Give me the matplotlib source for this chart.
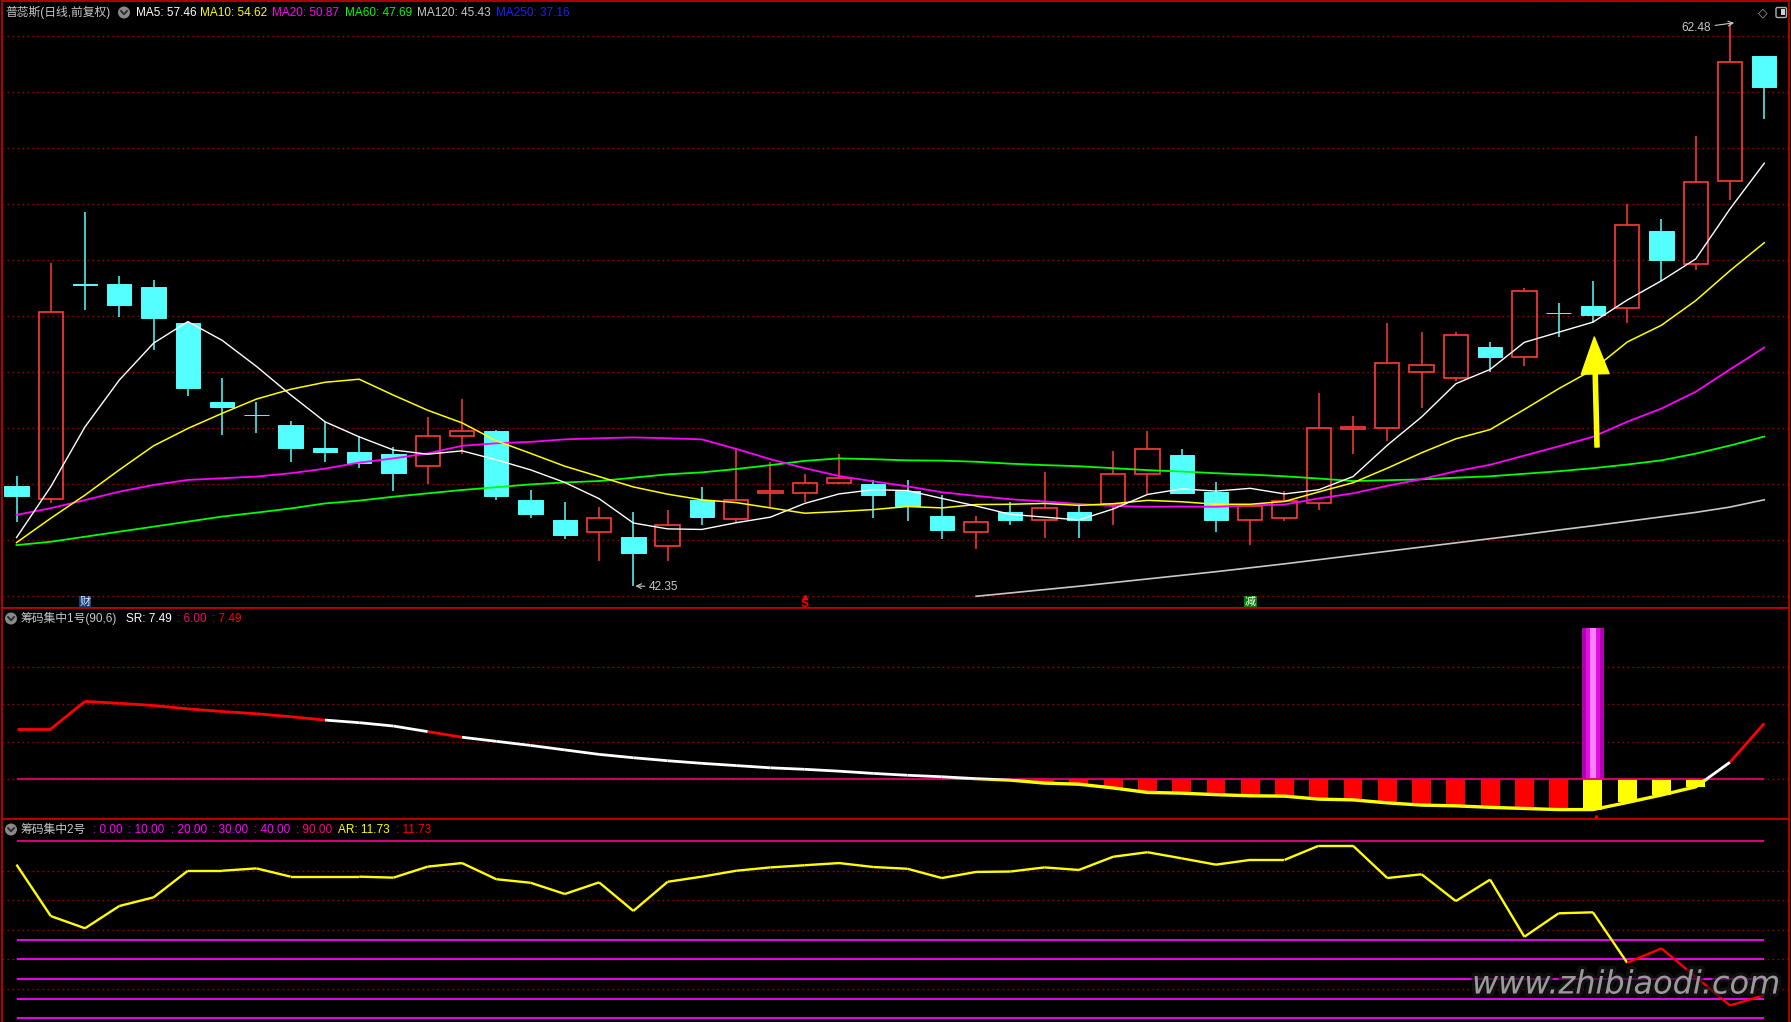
import numpy as np
import matplotlib
matplotlib.use("Agg")
import matplotlib.pyplot as plt
from matplotlib.patches import Rectangle, Circle, FancyArrowPatch, ArrowStyle, FancyBboxPatch
from matplotlib.collections import LineCollection
from matplotlib.lines import Line2D
from matplotlib.transforms import Affine2D
import matplotlib.patheffects as pe

plt.rcParams['font.family'] = ['Liberation Sans', 'Noto Sans CJK SC', 'DejaVu Sans']

# ---------------- data ----------------
stock_title = "普蕊斯(日线,前复权)"
opens = [45.92, 45.45, 53.15, 53.14, 53.04, 51.75, 48.93, 48.46, 48.10, 47.28,
         47.14, 47.07, 46.63, 47.70, 47.89, 45.42, 44.71, 44.27, 44.10, 43.79,
         45.42, 44.76, 45.66, 45.66, 46.02, 45.99, 45.73, 44.85, 44.27, 44.98,
         44.69, 44.98, 45.27, 46.34, 47.02, 45.70, 44.69, 44.77, 45.33, 47.97,
         47.98, 49.99, 49.78, 50.89, 50.53, 52.11, 52.35, 52.27, 55.03, 53.87,
         56.84, 61.28]
highs = [46.28, 53.89, 55.72, 53.42, 53.29, 51.80, 49.78, 48.94, 48.25, 48.22,
         47.71, 47.32, 48.39, 49.03, 47.93, 45.78, 45.35, 45.17, 45.01, 45.07,
         45.89, 47.23, 46.77, 46.35, 47.07, 46.14, 46.14, 45.59, 44.85, 45.35,
         46.44, 45.28, 47.16, 47.89, 47.26, 46.05, 45.21, 45.74, 49.26, 48.41,
         51.74, 51.42, 51.42, 51.08, 53.00, 52.46, 53.25, 55.99, 55.47, 58.43,
         62.48, 61.30]
lows = [44.65, 45.30, 52.23, 51.95, 50.80, 49.15, 47.76, 47.83, 46.79, 46.79,
        46.58, 45.76, 45.98, 47.05, 45.43, 44.79, 44.04, 43.25, 42.35, 43.25,
        44.53, 44.59, 45.12, 45.34, 46.00, 44.79, 44.68, 44.04, 43.68, 44.52,
        44.07, 44.07, 44.52, 45.63, 45.63, 44.28, 43.82, 44.66, 45.05, 47.05,
        47.54, 48.72, 49.67, 50.01, 50.22, 51.24, 51.75, 51.75, 53.25, 53.66,
        56.15, 59.05]
closes = [45.58, 52.13, 53.12, 52.39, 51.94, 49.44, 48.76, 48.45, 47.29, 47.15,
          46.76, 46.40, 47.70, 47.88, 45.58, 44.93, 44.18, 44.77, 43.54, 44.52,
          44.83, 45.41, 45.73, 46.02, 46.20, 45.61, 45.22, 44.36, 44.65, 44.69,
          45.12, 44.71, 46.34, 47.23, 45.69, 44.71, 45.21, 45.38, 47.98, 48.04,
          50.31, 50.24, 51.31, 50.55, 52.89, 52.10, 52.03, 55.26, 54.00, 56.79,
          61.07, 60.17]

ma5 = [44.08, 45.90, 48.04, 49.71, 51.03, 51.80, 51.13, 50.20, 49.18, 48.22,
       47.68, 47.21, 47.06, 47.18, 46.86, 46.50, 46.05, 45.47, 44.60, 44.39,
       44.37, 44.61, 44.81, 45.30, 45.64, 45.79, 45.76, 45.48, 45.21, 44.91,
       44.81, 44.71, 45.10, 45.62, 45.82, 45.74, 45.84, 45.64, 45.79, 46.26,
       47.38, 48.39, 49.58, 50.09, 51.06, 51.42, 51.78, 52.57, 53.26, 54.04,
       55.83, 57.46]
ma10 = [43.90, 44.77, 45.60, 46.50, 47.36, 47.98, 48.52, 49.03, 49.38, 49.63,
        49.74, 49.17, 48.63, 48.18, 47.54, 47.09, 46.63, 46.26, 45.89, 45.63,
        45.43, 45.33, 45.14, 44.95, 45.01, 45.08, 45.19, 45.14, 45.26, 45.27,
        45.30, 45.23, 45.29, 45.41, 45.36, 45.27, 45.27, 45.37, 45.71, 46.04,
        46.56, 47.11, 47.61, 47.94, 48.66, 49.40, 50.08, 51.07, 51.67, 52.55,
        53.62, 54.62]
ma20 = [44.89, 45.13, 45.42, 45.72, 45.96, 46.14, 46.20, 46.26, 46.38, 46.54,
        46.76, 46.91, 47.09, 47.36, 47.45, 47.50, 47.59, 47.63, 47.66, 47.63,
        47.59, 47.25, 46.88, 46.56, 46.28, 46.09, 45.91, 45.70, 45.57, 45.45,
        45.37, 45.28, 45.21, 45.18, 45.19, 45.18, 45.23, 45.26, 45.48, 45.66,
        45.93, 46.17, 46.45, 46.68, 47.01, 47.34, 47.68, 48.22, 48.69, 49.29,
        50.09, 50.87]
ma60 = [43.81, 43.93, 44.11, 44.29, 44.47, 44.65, 44.83, 44.97, 45.12, 45.30,
        45.40, 45.54, 45.66, 45.78, 45.88, 45.98, 46.05, 46.10, 46.22, 46.34,
        46.41, 46.53, 46.67, 46.82, 46.91, 46.88, 46.84, 46.83, 46.79, 46.72,
        46.67, 46.63, 46.56, 46.49, 46.44, 46.38, 46.33, 46.27, 46.19, 46.10,
        46.13, 46.16, 46.22, 46.27, 46.36, 46.45, 46.56, 46.69, 46.84, 47.08,
        47.37, 47.69]
ma120_start = 28
ma120 = [41.98, 42.10, 42.22, 42.34, 42.47, 42.60, 42.73, 42.86, 43.00, 43.14,
         43.29, 43.44, 43.59, 43.74, 43.89, 44.04, 44.19, 44.35, 44.50, 44.66,
         44.82, 44.98, 45.17, 45.43]
ma250_last = 37.16

# 筹码集中1号
sr = [7.34, 7.34, 8.08, 8.03, 7.97, 7.88, 7.81, 7.75, 7.67, 7.58,
      7.51, 7.42, 7.27, 7.12, 7.01, 6.90, 6.78, 6.66, 6.57, 6.49,
      6.42, 6.36, 6.30, 6.26, 6.21, 6.15, 6.10, 6.06, 6.01, 5.97,
      5.89, 5.86, 5.76, 5.64, 5.62, 5.58, 5.55, 5.54, 5.46, 5.44,
      5.36, 5.30, 5.28, 5.24, 5.21, 5.18, 5.18, 5.37, 5.57, 5.79,
      6.45, 7.49]
sr_base = 6.00
sr_peak_idx = 46
sr_peak_top = 10.04
sr_yellow_from = 46

# 筹码集中2号
ar = [78.0, 51.9, 45.7, 57.0, 61.4, 74.9, 74.9, 76.1, 71.9, 71.9,
      71.9, 71.4, 77.0, 78.8, 70.6, 68.8, 63.1, 69.0, 54.5, 69.3,
      71.9, 74.9, 76.6, 77.7, 78.8, 76.8, 75.9, 71.2, 74.3, 74.5,
      76.6, 75.3, 82.0, 84.3, 81.2, 78.0, 80.4, 80.4, 87.6, 87.6,
      71.2, 73.1, 59.5, 70.4, 41.4, 53.3, 53.8, 28.2, 35.5, 21.0,
      6.5, 11.73]
ar_levels = [0, 10, 20, 30, 40]
ar_top_level = 90

signal_cai = 2
signal_s = 23
signal_jian = 36
arrow_idx = 46

# ---------------- styles ----------------
BG = 'black'
BORDER = '#c00000'
GRID = '#a00000'
UPC = '#ff3a3a'
DNC = '#54ffff'
GRAY = '#c8c8c8'
YEL = '#ffff00'
MAG = '#ff00ff'
GRN = '#00ff00'
RED = '#ff0000'

W, H = 1791, 1022
fig = plt.figure(figsize=(W / 100, H / 100), dpi=100, facecolor=BG)
PX = Affine2D().scale(1.0 / W, -1.0 / H).translate(0, 1) + fig.transFigure

X0, DX = 16.5, 34.27
def xdata(px):
    return (px - X0) / DX
def price_px(y):
    return 63.296 - 0.035747 * y
def sr_px(y):
    return 6 + (779 - y) / 37.3
def ar_px(y):
    return (1018.3 - y) / 1.97

def make_ax(top, bottom, left=2, right=1789):
    ax = fig.add_axes([left / W, 1 - bottom / H, (right - left) / W, (bottom - top) / H])
    ax.set_facecolor(BG)
    ax.set_xticks([]); ax.set_yticks([])
    for s in ax.spines.values():
        s.set_color(BORDER); s.set_linewidth(1.3)
    ax.set_xlim(xdata(left), xdata(right))
    return ax

ax1 = make_ax(1, 608)
ax1.set_ylim(price_px(608), price_px(1))
ax2 = make_ax(608, 819)
ax2.set_ylim(sr_px(819), sr_px(608))
ax3 = make_ax(819, 1022)
ax3.set_ylim(ar_px(1022), ar_px(819))
ax3.spines['bottom'].set_visible(False)

dots = (0, (1.2, 2.4))
for g in range(42, 63, 2):
    ax1.axhline(g, color=GRID, lw=1, ls=dots, zorder=0.5)
for g in [6, 7, 8, 9]:
    ax2.axhline(g, color=GRID, lw=1, ls=dots, zorder=0.5)
for g in [15, 30, 45, 60, 75]:
    ax3.axhline(g, color=GRID, lw=1, ls=dots, zorder=0.5)

n = len(closes)
x = np.arange(n)
O = np.array(opens); Hh = np.array(highs); L = np.array(lows); C = np.array(closes)
up = C > O
dn = ~up
bw = 0.71

# candles
ax1.vlines(x[dn], L[dn], Hh[dn], color=DNC, lw=1.1, zorder=3)
ax1.bar(x[dn], (O - C)[dn], bottom=C[dn], width=bw, color=DNC, edgecolor=DNC, lw=0.7, zorder=3)
ax1.vlines(x[up], C[up], Hh[up], color=UPC, lw=1.1, zorder=3)
ax1.vlines(x[up], L[up], O[up], color=UPC, lw=1.1, zorder=3)
ax1.bar(x[up], (C - O)[up], bottom=O[up], width=bw, facecolor='none', edgecolor=UPC, lw=1.2, zorder=3)

# moving averages
ax1.plot(x, ma60, color=GRN, lw=1.3, zorder=4)
ax1.plot(x, ma20, color=MAG, lw=1.3, zorder=4)
ax1.plot(x, ma10, color=YEL, lw=1.1, zorder=4)
ax1.plot(x, ma5, color='white', lw=1.0, zorder=4)
ax1.plot(np.arange(ma120_start, ma120_start + len(ma120)), ma120, color=GRAY, lw=1.2, zorder=4)

# extremes annotations
hi_i = int(np.argmax(Hh)); lo_i = int(np.argmin(L))
ax1.annotate(f"{Hh[hi_i]:.2f}", xy=(hi_i + 0.12, Hh[hi_i]), xytext=(xdata(1711), price_px(28)),
             ha='right', va='center', color=GRAY, fontsize=8.5,
             arrowprops=dict(arrowstyle='->', color=GRAY, lw=0.8, shrinkA=1, shrinkB=0), zorder=6)
ax1.annotate(f"{L[lo_i]:.2f}", xy=(lo_i + 0.06, L[lo_i]), xytext=(xdata(649), price_px(587)),
             ha='left', va='center', color=GRAY, fontsize=8.5,
             arrowprops=dict(arrowstyle='->', color=GRAY, lw=0.8, shrinkA=1, shrinkB=0), zorder=6)

# yellow arrow
arr = FancyArrowPatch((arrow_idx + 0.12, price_px(447)), (arrow_idx + 0.04, price_px(337)),
                      arrowstyle=ArrowStyle.Simple(head_length=1.33, head_width=1.0, tail_width=0.15),
                      mutation_scale=20, color=YEL, shrinkA=0, shrinkB=0, zorder=7)
ax1.add_patch(arr)

# signal labels
ax1.text(signal_cai, price_px(602), "财", color='#e0e8ff', fontsize=8, ha='center', va='center',
         bbox=dict(boxstyle='square,pad=0.08', fc='#1a3c7a', ec='none'), zorder=6)
ax1.text(signal_s, price_px(604), "S", color=RED, fontsize=8.5, fontweight='bold', ha='center', va='center', zorder=6)
ax1.plot([signal_s], [price_px(596.5)], marker='^', ms=3, color=RED, zorder=6)
ax1.text(signal_jian, price_px(601.5), "减", color='white', fontsize=8, ha='center', va='center',
         bbox=dict(boxstyle='square,pad=0.08', fc='#0a7a0a', ec='none'), zorder=6)

# small top ticks on right part of top border
ax1.vlines(x[44:] + 0.05, price_px(1), price_px(-3), color=BORDER, lw=1, clip_on=False)

# ---------------- panel 2 ----------------
sr_a = np.array(sr)
below = sr_a < sr_base
bar_cols = [YEL if i >= sr_yellow_from else RED for i in x[below]]
ax2.bar(x[below], sr_a[below] - sr_base, bottom=sr_base, width=0.55, color=bar_cols, zorder=2)
for w, c in [(0.64, '#b000b0'), (0.42, '#e010e0'), (0.16, '#ff80ff')]:
    ax2.bar(sr_peak_idx, sr_peak_top - sr_base, bottom=sr_base, width=w, color=c, zorder=2.5)
ax2.hlines(sr_base, 0, n - 1, color='#e0006e', lw=1.3, zorder=3)

sr_seg_colors = [RED] * 9 + ['white'] * 3 + [RED] + ['white'] * 37 + [RED]
pts = np.column_stack([x, sr_a])
segs = np.stack([pts[:-1], pts[1:]], axis=1)
lc = LineCollection(segs, colors=sr_seg_colors, lw=2.0, zorder=4)
ax2.add_collection(lc)
lc.set_clip_path(Rectangle((-5, sr_base), 70, 20, transform=ax2.transData))
ly, = ax2.plot(x, sr_a, color=YEL, lw=2.4, zorder=4)
ly.set_clip_path(Rectangle((-5, 0), 70, sr_base, transform=ax2.transData))
ax2.plot([sr_peak_idx + 0.1], [sr_px(817)], marker='^', ms=3, color=RED, zorder=5, clip_on=False)

# ---------------- panel 3 ----------------
for lv in ar_levels:
    ax3.hlines(lv, 0, n - 1, color=MAG, lw=1.3, zorder=2)
ax3.hlines(ar_top_level, 0, n - 1, color='#f0007f', lw=1.3, zorder=2)
ar_seg_colors = [YEL] * 47 + [RED] * 4
pts3 = np.column_stack([x, np.array(ar)])
segs3 = np.stack([pts3[:-1], pts3[1:]], axis=1)
ax3.add_collection(LineCollection(segs3, colors=ar_seg_colors, lw=1.7, zorder=4))

# ---------------- titles / legends ----------------
def icon(cx, cy):
    fig.add_artist(Circle((cx, cy), 6, transform=PX, fc='#8a8a8a', ec='none', zorder=10))
    fig.add_artist(Line2D([cx - 3, cx, cx + 3], [cy - 1.5, cy + 1.8, cy - 1.5], transform=PX,
                          color='#2a2a2a', lw=1.3, zorder=11))

def ftxt(xp, yp, s, c, fs=8.5):
    fig.text(xp / W, 1 - yp / H, s, color=c, fontsize=fs, ha='left', va='center', zorder=10)

ty = 12.5
ftxt(5.7, ty, stock_title, GRAY)
icon(124, ty)
ftxt(135.9, ty, f"MA5: {ma5[-1]:.2f}", 'white')
ftxt(200.5, ty, f"MA10: {ma10[-1]:.2f}", YEL)
ftxt(272.5, ty, f"MA20: {ma20[-1]:.2f}", MAG)
ftxt(345.2, ty, f"MA60: {ma60[-1]:.2f}", GRN)
ftxt(417.1, ty, f"MA120: {ma120[-1]:.2f}", GRAY)
ftxt(496.0, ty, f"MA250: {ma250_last:.2f}", '#2020ff')

ty2 = 618.5
icon(11, ty2)
ftxt(20.7, ty2, "筹码集中1号(90,6)", GRAY)
ftxt(126, ty2, f"SR: {sr[-1]:.2f}", 'white')
ftxt(176.7, ty2, f": {sr_base:.2f}", '#ff0066')
ftxt(211.7, ty2, f": {sr[-1]:.2f}", RED)

ty3 = 829.5
icon(11, ty3)
ftxt(20.7, ty3, "筹码集中2号", GRAY)
for xp, lv in zip([92.7, 128.3, 170.7, 212.0, 254.0], ar_levels):
    ftxt(xp, ty3, f": {lv:.2f}", MAG)
ftxt(296.0, ty3, f": {ar_top_level:.2f}", '#ff0080')
ftxt(337.7, ty3, f"AR: {ar[-1]:.2f}", YEL)
ftxt(395.7, ty3, f": {ar[-1]:.2f}", RED)

# top-right icons
fig.text(1762.7 / W, 1 - 12.5 / H, "◇", color='#a0a0a0', fontsize=9, ha='center', va='center',
         family='DejaVu Sans', zorder=10)
fig.add_artist(FancyBboxPatch((1776, 7.5), 10.5, 10, boxstyle='round,pad=0,rounding_size=1.5',
                              transform=PX, fc='none', ec='#b0b0b0', lw=1.0, zorder=10))
fig.add_artist(Rectangle((1781, 9.5), 3.5, 6, transform=PX, fc='#d0d0d0', ec='none', zorder=10))

# watermark
fig.text(1472 / W, 1 - 985 / H, "www.zhibiaodi.com", color='#a4a4a4', fontsize=23,
         family='DejaVu Sans', style='italic', ha='left', va='center', alpha=0.92, zorder=20,
         path_effects=[pe.Stroke(linewidth=5, foreground='#161616', alpha=0.7), pe.Normal()])

fig.savefig('out.png', dpi=100, facecolor=BG)
